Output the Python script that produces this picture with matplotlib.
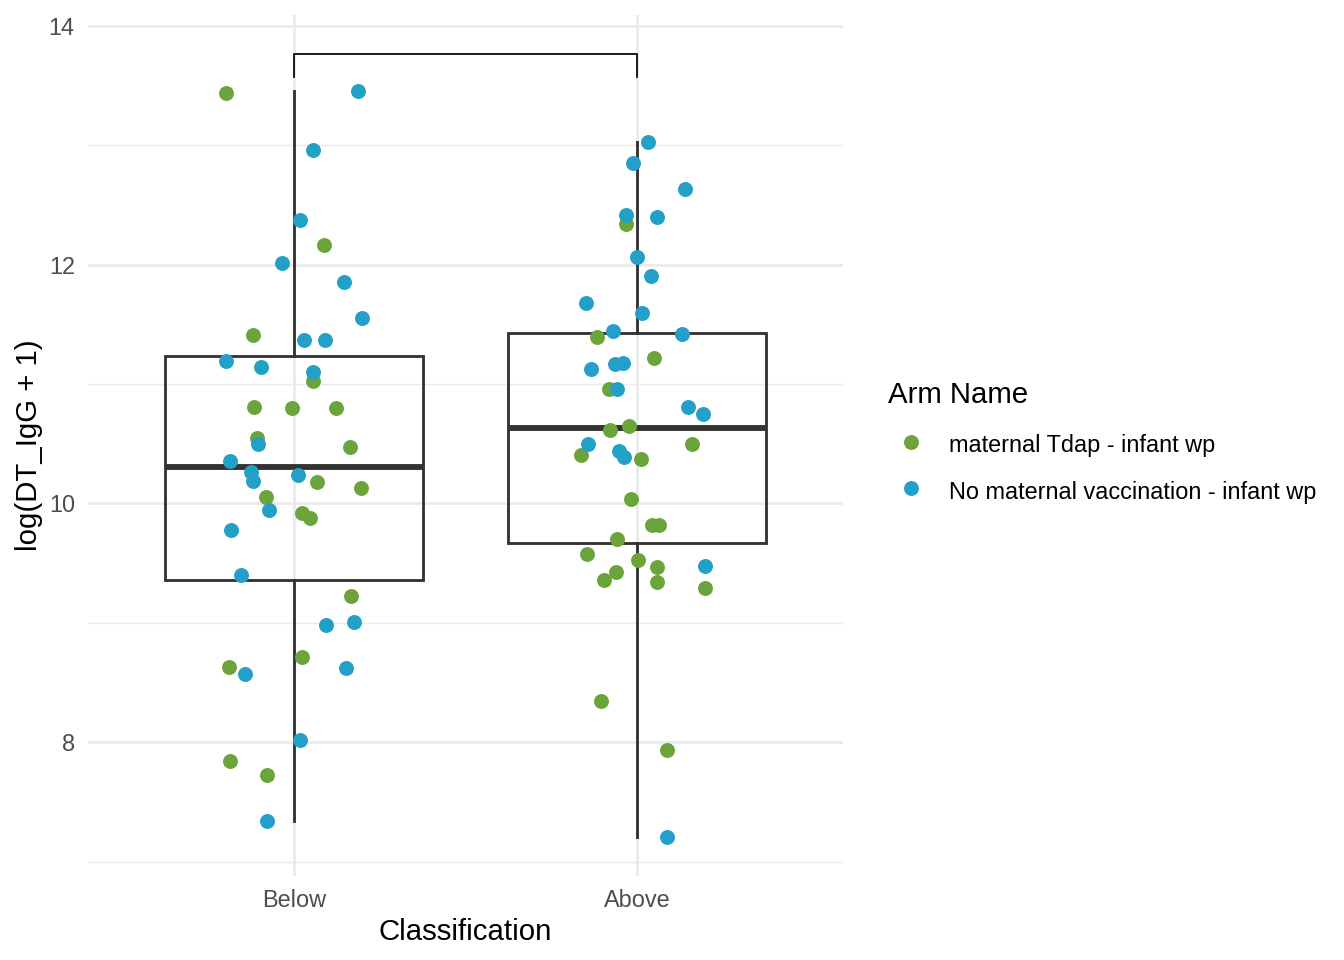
import numpy as np
import matplotlib.pyplot as plt
from matplotlib.lines import Line2D

plt.rcParams['font.family'] = ['Liberation Sans', 'DejaVu Sans']

classes = ['Below', 'Above']
arms = ['maternal Tdap - infant wp', 'No maternal vaccination - infant wp']
arm_colors = ['#6CA43C', '#22A0C8']

# log(DT_IgG + 1) values, with their jitter offsets
below_tdap = [13.439, 12.165, 11.411, 11.028, 10.810, 10.801, 10.801, 10.545, 10.474, 10.176,
              10.128, 10.053, 9.921, 9.874, 9.223, 8.628, 8.712, 7.843, 7.726]
below_tdap_jit = [-0.198, 0.087, -0.119, 0.056, -0.117, -0.005, 0.122, -0.108, 0.162, 0.068,
                  0.195, -0.081, 0.024, 0.048, 0.167, -0.190, 0.023, -0.187, -0.078]
below_none = [13.455, 12.961, 12.374, 12.014, 11.855, 11.550, 11.193, 11.145, 11.369, 11.369,
              11.098, 10.352, 10.495, 10.262, 10.187, 10.240, 9.942, 9.779, 9.402, 8.980,
              9.011, 8.570, 8.620, 8.017, 7.338]
below_none_jit = [0.187, 0.055, 0.017, -0.035, 0.146, 0.199, -0.197, -0.096, 0.029, 0.091,
                  0.056, -0.185, -0.104, -0.126, -0.120, 0.011, -0.072, -0.184, -0.154, 0.093,
                  0.174, -0.143, 0.152, 0.017, -0.077]
above_tdap = [12.338, 11.391, 11.220, 10.961, 10.617, 10.648, 10.402, 10.495, 10.371, 10.034,
              9.818, 9.818, 9.701, 9.575, 9.525, 9.424, 9.469, 9.355, 9.338, 9.290,
              8.344, 7.933]
above_tdap_jit = [-0.033, -0.117, 0.048, -0.082, -0.080, -0.024, -0.163, 0.160, 0.010, -0.017,
                  0.044, 0.065, -0.059, -0.145, 0.002, -0.060, 0.059, -0.095, 0.058, 0.198,
                  -0.105, 0.088]
above_none = [13.025, 12.849, 12.631, 12.414, 12.397, 12.062, 11.902, 11.676, 11.592, 11.442,
              11.419, 11.128, 11.168, 11.178, 10.955, 10.804, 10.749, 10.497, 10.436, 10.391,
              9.475, 7.206]
above_none_jit = [0.032, -0.012, 0.139, -0.031, 0.057, 0.000, 0.041, -0.150, 0.013, -0.071,
                  0.130, -0.134, -0.064, -0.041, -0.058, 0.148, 0.192, -0.142, -0.053, -0.037,
                  0.199, 0.088]

# significance bracket (no label shown)
bracket_top = 13.765
bracket_tip = 13.575

box_color = '#333333'
grid_color = '#EBEBEB'

fig = plt.figure(figsize=(7, 5), dpi=192)
ax = fig.add_axes([88 / 1344, 1 - 876 / 960, 755 / 1344, 861 / 960])

pos = [1, 2]
groups = [below_tdap + below_none, above_tdap + above_none]
ax.boxplot(groups, positions=pos, widths=0.75, whis=1.5, showfliers=False,
           patch_artist=True,
           boxprops=dict(facecolor='none', edgecolor=box_color, linewidth=1.07),
           whiskerprops=dict(color=box_color, linewidth=1.07),
           capprops=dict(linewidth=0),
           medianprops=dict(color=box_color, linewidth=2.2, solid_capstyle='butt'),
           zorder=2)

ms = 5.6
for p, vals, jit in [(1, below_tdap, below_tdap_jit), (2, above_tdap, above_tdap_jit)]:
    ax.scatter(p + np.array(jit), vals, s=ms ** 2, color=arm_colors[0], linewidths=0, zorder=3)
for p, vals, jit in [(1, below_none, below_none_jit), (2, above_none, above_none_jit)]:
    ax.scatter(p + np.array(jit), vals, s=ms ** 2, color=arm_colors[1], linewidths=0, zorder=3)

ax.plot([1, 1, 2, 2], [bracket_tip, bracket_top, bracket_top, bracket_tip],
        color='black', linewidth=0.65, zorder=3)

ax.set_xlim(0.4, 2.6)
ax.set_ylim(6.88, 14.09)
ax.set_xticks(pos)
ax.set_xticklabels(classes)
ax.set_yticks([8, 10, 12, 14])
ax.set_yticks([7, 9, 11, 13], minor=True)
ax.grid(True, which='major', color=grid_color, linewidth=1.07, zorder=0)
ax.grid(True, which='minor', axis='y', color=grid_color, linewidth=0.53, zorder=0)
ax.set_axisbelow(True)
for s in ax.spines.values():
    s.set_visible(False)
ax.tick_params(axis='both', which='both', length=0, labelsize=8.8, labelcolor='#4D4D4D', pad=4.95)

ax.set_xlabel('Classification', fontsize=11, labelpad=2.1)
ax.set_ylabel('log(DT_IgG + 1)', fontsize=11, labelpad=2.0)

# legend: title as its own text, entries below it
fig.text(888 / 1344, 1 - 403 / 960, 'Arm Name', fontsize=11, ha='left', va='baseline')
handles = [Line2D([], [], marker='o', linestyle='', color=c, markeredgewidth=0, markersize=ms)
           for c in arm_colors]
fig.legend(handles, arms, loc='center left', bbox_to_anchor=(888 / 1344, 1 - 468 / 960),
           frameon=False, fontsize=8.8,
           handlelength=1.96, handleheight=1.42, handletextpad=0.625, labelspacing=0.83,
           borderpad=0, borderaxespad=0)

fig.savefig('out.png', dpi=192)
